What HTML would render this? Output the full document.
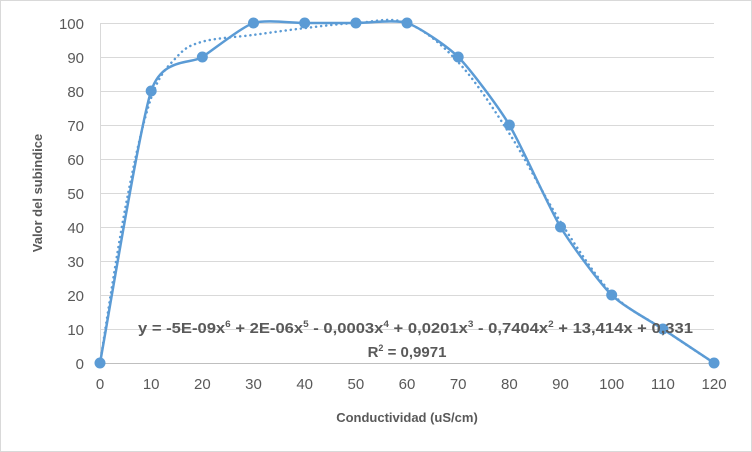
<!DOCTYPE html>
<html><head><meta charset="utf-8"><style>
html,body{margin:0;padding:0;background:#fff;}
svg{display:block;font-family:"Liberation Sans",sans-serif;}
</style></head><body>
<svg width="752" height="452" viewBox="0 0 752 452" xmlns="http://www.w3.org/2000/svg">
<rect x="0.5" y="0.5" width="751" height="451" fill="#fff" stroke="#d9d9d9"/>
<g stroke="#d9d9d9" stroke-width="1">
<line x1="100" y1="23.5" x2="714" y2="23.5"/>
<line x1="100" y1="57.5" x2="714" y2="57.5"/>
<line x1="100" y1="91.5" x2="714" y2="91.5"/>
<line x1="100" y1="125.5" x2="714" y2="125.5"/>
<line x1="100" y1="159.5" x2="714" y2="159.5"/>
<line x1="100" y1="193.5" x2="714" y2="193.5"/>
<line x1="100" y1="227.5" x2="714" y2="227.5"/>
<line x1="100" y1="261.5" x2="714" y2="261.5"/>
<line x1="100" y1="295.5" x2="714" y2="295.5"/>
<line x1="100" y1="329.5" x2="714" y2="329.5"/>
<line x1="100.5" y1="23" x2="100.5" y2="363"/>
</g>
<line x1="100" y1="363.5" x2="714" y2="363.5" stroke="#bfbfbf"/>
<g fill="#595959" font-size="15" text-anchor="end">
<text x="84" y="29">100</text><text x="84" y="63">90</text><text x="84" y="97">80</text>
<text x="84" y="131">70</text><text x="84" y="165">60</text><text x="84" y="199">50</text>
<text x="84" y="233">40</text><text x="84" y="267">30</text><text x="84" y="301">20</text>
<text x="84" y="335">10</text><text x="84" y="369">0</text>
</g>
<g fill="#595959" font-size="15" text-anchor="middle" id="xt"></g>
<text x="407" y="422" fill="#595959" font-size="13" font-weight="bold" text-anchor="middle">Conductividad (uS/cm)</text>
<text transform="translate(42,193) rotate(-90)" fill="#595959" font-size="13" font-weight="bold" text-anchor="middle">Valor del subindice</text>
<path id="trend" fill="none" stroke="#5b9bd5" stroke-width="2.5" stroke-dasharray="0.1 5" stroke-linecap="round"/>
<path id="main" fill="none" stroke="#5b9bd5" stroke-width="2.5"/>
<g id="pts" fill="#5b9bd5"></g>
<text x="138" y="333" textLength="555" lengthAdjust="spacingAndGlyphs" fill="#595959" font-size="15" font-weight="bold">y = -5E-09x<tspan font-size="9" dy="-6">6</tspan><tspan dy="6"> + 2E-06x</tspan><tspan font-size="9" dy="-6">5</tspan><tspan dy="6"> - 0,0003x</tspan><tspan font-size="9" dy="-6">4</tspan><tspan dy="6"> + 0,0201x</tspan><tspan font-size="9" dy="-6">3</tspan><tspan dy="6"> - 0,7404x</tspan><tspan font-size="9" dy="-6">2</tspan><tspan dy="6"> + 13,414x + 0,331</tspan></text>
<text x="407" y="357" fill="#595959" font-size="15" font-weight="bold" text-anchor="middle">R<tspan font-size="9" dy="-6">2</tspan><tspan dy="6"> = 0,9971</tspan></text>
</svg>
<script>
function X(x){return 100+x*5.117;}function Y(y){return 363-y*3.4;}
var xt=document.getElementById('xt'),s='';
for(var i=0;i<=120;i+=10)s+='<text x="'+X(i)+'" y="389">'+i+'</text>';
xt.innerHTML=s;
function cr(pts,k){var d='M'+X(pts[0][0])+','+Y(pts[0][1]);
for(var i=0;i<pts.length-1;i++){var p0=pts[Math.max(i-1,0)],p1=pts[i],p2=pts[i+1],p3=pts[Math.min(i+2,pts.length-1)];
var a=[X(p1[0]),Y(p1[1])],b=[X(p2[0]),Y(p2[1])],a0=[X(p0[0]),Y(p0[1])],b3=[X(p3[0]),Y(p3[1])];
var c1=[a[0]+(b[0]-a0[0])/k,a[1]+(b[1]-a0[1])/k],c2=[b[0]-(b3[0]-a[0])/k,b[1]-(b3[1]-a[1])/k];
d+=' C'+c1+' '+c2+' '+b;}return d;}
var data=[[0,0],[10,80],[20,90],[30,100],[40,100],[50,100],[60,100],[70,90],[80,70],[90,40],[100,20],[110,10],[120,0]];
document.getElementById('main').setAttribute('d',cr(data,9));
var tr=[[0,0],[5,46],[10,78],[15,90],[20,94.5],[30,96.5],[40,98.5],[50,100],[60,100],[70,88.5],[80,67.5],[90,41.5],[100,20.5],[110,10],[120,0]];
document.getElementById('trend').setAttribute('d',cr(tr,6));
var g='';data.forEach(function(p){g+='<circle cx="'+X(p[0])+'" cy="'+Y(p[1])+'" r="5.5"/>';});
document.getElementById('pts').innerHTML=g;
</script>
</body></html>
